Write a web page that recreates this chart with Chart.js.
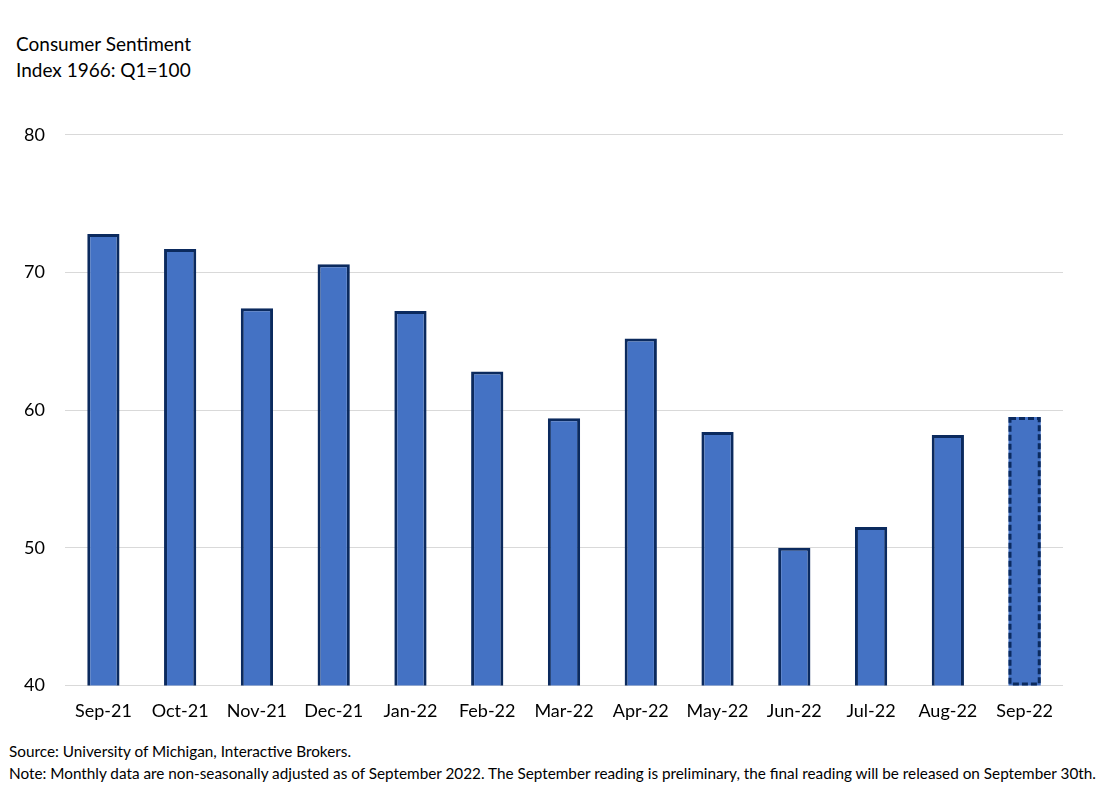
<!DOCTYPE html>
<html>
<head>
<meta charset="utf-8">
<script src="https://cdn.jsdelivr.net/npm/chart.js@4"></script>
<style>
  html, body { margin: 0; padding: 0; background: #fff; }
  body { width: 1100px; height: 796px; position: relative; overflow: hidden; font-family: Lato, "Open Sans", sans-serif; color: #000; }
  .titre { position: absolute; left: 16px; top: 31px; font-size: 19px; line-height: 26px; }
  .notes { position: absolute; left: 9px; top: 740px; font-size: 15.3px; line-height: 22px; white-space: nowrap; }
  #wrap { position: absolute; left: 0; top: 104px; width: 1100px; height: 625px; }
</style>
</head>
<body>
<div class="titre">Consumer Sentiment<br>Index 1966: Q1=100</div>
<div id="wrap"><canvas id="barChart"></canvas></div>
<div class="notes">Source: University of Michigan, Interactive Brokers.<br>Note: Monthly data are non-seasonally adjusted as of September 2022. The September reading is preliminary, the final reading will be released on September 30th.</div>
<script>
// Données
const mois = ['Sep-21', 'Oct-21', 'Nov-21', 'Dec-21', 'Jan-22', 'Feb-22', 'Mar-22', 'Apr-22', 'May-22', 'Jun-22', 'Jul-22', 'Aug-22', 'Sep-22'];
const sentiment = [72.8, 71.7, 67.4, 70.6, 67.2, 62.8, 59.4, 65.2, 58.4, 50.0, 51.5, 58.2, 59.5];
const graduations = [40, 50, 60, 70, 80];

const bleu = '#4472C4';
const marine = '#0B2A5E';
const dernier = sentiment.length - 1;

// Bordure pointillée pour la lecture préliminaire
const bordurePointillee = {
    id: 'bordurePointillee',
    afterDatasetsDraw(chart) {
        const bar = chart.getDatasetMeta(0).data[dernier];
        if (!bar) return;
        const echelleY = chart.scales.y;
        const haut = echelleY.getPixelForValue(sentiment[dernier]);
        const bas = echelleY.getPixelForValue(echelleY.min);
        const ctx = chart.ctx;
        ctx.save();
        ctx.strokeStyle = marine;
        ctx.lineWidth = 3;
        ctx.setLineDash([6, 3]);
        ctx.strokeRect(bar.x - bar.width / 2 + 1.5, haut + 1.5, bar.width - 3, bas - haut - 3);
        ctx.restore();
    }
};

new Chart(document.getElementById('barChart'), {
    type: 'bar',
    data: {
        labels: mois,
        datasets: [{
            data: sentiment,
            backgroundColor: bleu,
            borderColor: marine,
            borderWidth: sentiment.map((v, i) => i === dernier ? 0 : 3),
            borderSkipped: false,
            categoryPercentage: 1,
            barPercentage: 0.42
        }]
    },
    options: {
        responsive: true,
        maintainAspectRatio: false,
        animation: false,
        layout: { padding: { top: 28, right: 37, left: 0, bottom: 0 } },
        plugins: {
            legend: { display: false },
            tooltip: { enabled: false }
        },
        scales: {
            y: {
                min: 40,
                max: 80,
                afterBuildTicks(axis) {
                    axis.ticks = graduations.map(v => ({ value: v }));
                },
                afterFit(axis) { axis.width = 65; },
                grid: { color: '#D9D9D9', lineWidth: 1, drawTicks: false },
                border: { display: false },
                ticks: {
                    padding: 20,
                    color: '#000',
                    font: { family: 'Lato', size: 18 }
                }
            },
            x: {
                grid: { display: false },
                border: { display: false },
                ticks: {
                    padding: 7,
                    color: '#000',
                    maxRotation: 0,
                    autoSkip: false,
                    font: { family: 'Lato', size: 18 }
                }
            }
        }
    },
    plugins: [bordurePointillee]
});
</script>
</body>
</html>
